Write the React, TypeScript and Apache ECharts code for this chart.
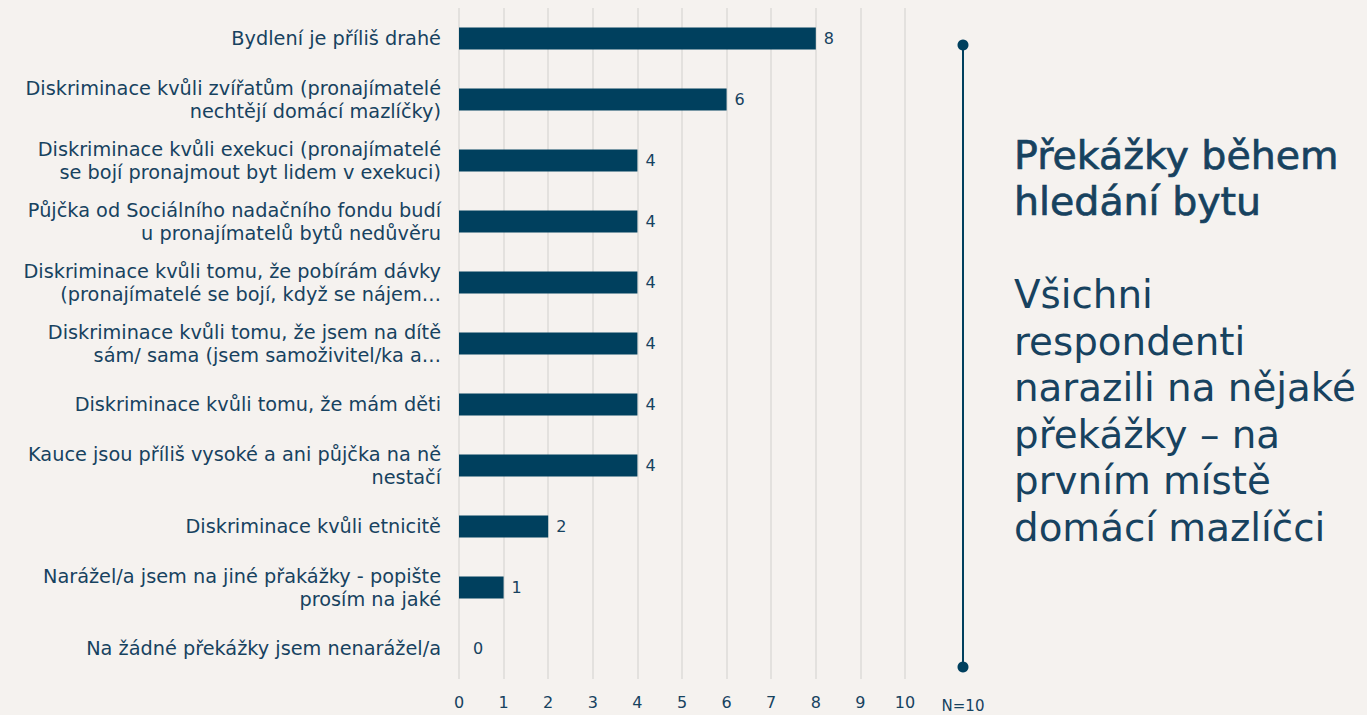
import React, { useEffect, useRef } from "react";
import * as echarts from "echarts";

const categories: string[] = [
  "Bydlení je příliš drahé",
  "Diskriminace kvůli zvířatům (pronajímatelé\nnechtějí domácí mazlíčky)",
  "Diskriminace kvůli exekuci (pronajímatelé\nse bojí pronajmout byt lidem v exekuci)",
  "Půjčka od Sociálního nadačního fondu budí\nu pronajímatelů bytů nedůvěru",
  "Diskriminace kvůli tomu, že pobírám dávky\n(pronajímatelé se bojí, když se nájem…",
  "Diskriminace kvůli tomu, že jsem na dítě\nsám/ sama (jsem samoživitel/ka a…",
  "Diskriminace kvůli tomu, že mám děti",
  "Kauce jsou příliš vysoké a ani půjčka na ně\nnestačí",
  "Diskriminace kvůli etnicitě",
  "Narážel/a jsem na jiné přakážky - popište\nprosím na jaké",
  "Na žádné překážky jsem nenarážel/a",
];

const values: number[] = [8, 6, 4, 4, 4, 4, 4, 4, 2, 1, 0];

const titleLines: string[] = ["Překážky během", "hledání bytu"];
const subtitleLines: string[] = [
  "Všichni",
  "respondenti",
  "narazili na nějaké",
  "překážky – na",
  "prvním místě",
  "domácí mazlíčci",
];
const sampleNote = "N=10";

const TEXT = "#17425f";
const BAR = "#00405e";
const BG = "#f5f2ef";
const FONT = "'DejaVu Sans', sans-serif";

export default function App() {
  const ref = useRef<HTMLDivElement>(null);

  useEffect(() => {
    document.body.style.margin = "0";
    if (!ref.current) return;
    const chart = echarts.init(ref.current, undefined, { renderer: "svg" });

    const graphics: any[] = [
      {
        type: "line",
        shape: { x1: 963, y1: 45, x2: 963, y2: 667 },
        style: { stroke: BAR, lineWidth: 2 },
      },
      { type: "circle", shape: { cx: 963, cy: 45, r: 5.5 }, style: { fill: BAR } },
      { type: "circle", shape: { cx: 963, cy: 667, r: 5.5 }, style: { fill: BAR } },
      {
        type: "text",
        x: 963,
        y: 706,
        style: {
          text: sampleNote,
          fill: TEXT,
          font: `15px ${FONT}`,
          align: "center",
          verticalAlign: "middle",
        },
      },
    ];
    titleLines.forEach((t, i) => {
      graphics.push({
        type: "text",
        x: 1014,
        y: 168 - 13.5 + i * 46,
        style: {
          text: t,
          fill: TEXT,
          stroke: TEXT,
          lineWidth: 0.7,
          font: `400 39.5px ${FONT}`,
          align: "left",
          verticalAlign: "middle",
        },
      });
    });
    subtitleLines.forEach((t, i) => {
      graphics.push({
        type: "text",
        x: 1014,
        y: 308 - 13.5 + i * 46.5,
        style: {
          text: t,
          fill: TEXT,
          font: `400 38.8px ${FONT}`,
          align: "left",
          verticalAlign: "middle",
        },
      });
    });

    chart.setOption({
      animation: false,
      backgroundColor: BG,
      textStyle: { fontFamily: FONT },
      grid: { left: 459, right: 462, top: 8, bottom: 36, containLabel: false },
      xAxis: {
        type: "value",
        min: 0,
        max: 10,
        interval: 1,
        axisLine: { show: false },
        axisTick: { show: false },
        splitLine: { show: true, lineStyle: { color: "#dddbd8", width: 1.5 } },
        axisLabel: { color: TEXT, fontSize: 16, margin: 15, fontFamily: FONT },
      },
      yAxis: {
        type: "category",
        inverse: true,
        data: categories,
        axisLine: { show: false },
        axisTick: { show: false },
        axisLabel: {
          color: TEXT,
          fontSize: 19.3,
          lineHeight: 23,
          margin: 18,
          align: "right",
          fontFamily: FONT,
        },
      },
      series: [
        {
          type: "bar",
          data: values.map((v) =>
            v === 0 ? { value: v, label: { offset: [6, 0] } } : v
          ),
          barWidth: 22,
          itemStyle: { color: BAR },
          label: {
            show: true,
            position: "right",
            distance: 8,
            color: TEXT,
            fontSize: 16,
            fontFamily: FONT,
          },
        },
      ],
      graphic: graphics,
    });

    return () => chart.dispose();
  }, []);

  return <div ref={ref} style={{ width: 1367, height: 715, background: BG }} />;
}
